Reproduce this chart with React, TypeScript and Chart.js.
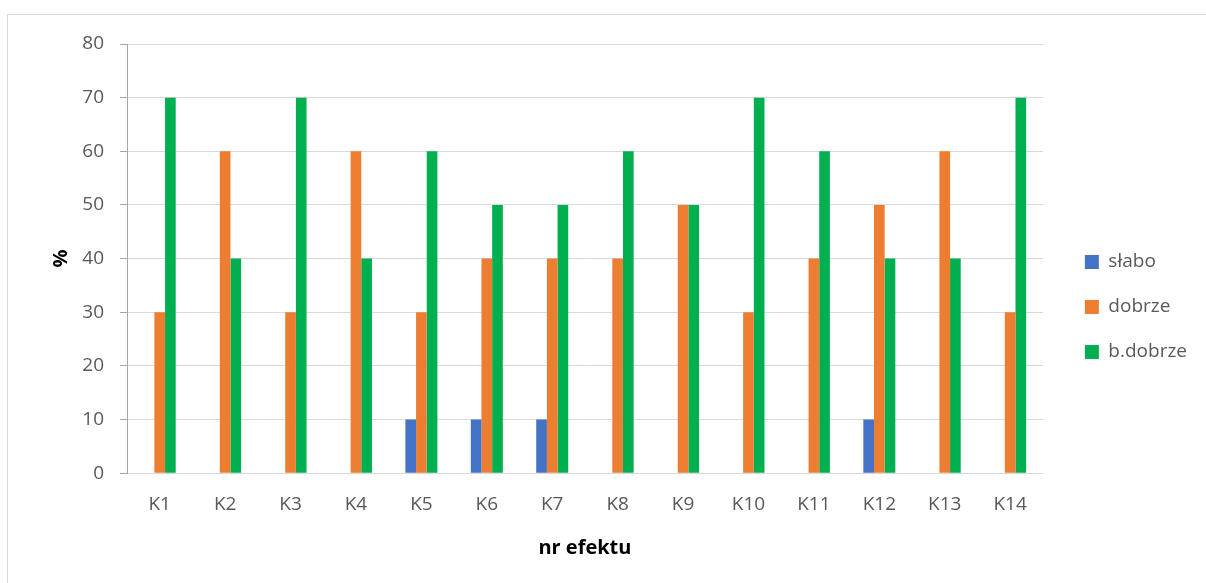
import React, { useEffect, useRef } from "react";
import { Chart, registerables } from "chart.js";

Chart.register(...registerables);

const categories = ["K1", "K2", "K3", "K4", "K5", "K6", "K7", "K8", "K9", "K10", "K11", "K12", "K13", "K14"];
const slabo = [0, 0, 0, 0, 10, 10, 10, 0, 0, 0, 0, 10, 0, 0];
const dobrze = [30, 60, 30, 60, 30, 40, 40, 40, 50, 30, 40, 50, 60, 30];
const bdobrze = [70, 40, 70, 40, 60, 50, 50, 60, 50, 70, 60, 40, 40, 70];
const seriesNames = ["słabo", "dobrze", "b.dobrze"];
const seriesColors = ["#4472C4", "#ED7D31", "#00B050"];
const yTicks = [0, 10, 20, 30, 40, 50, 60, 70, 80];

const FONT = "'Open Sans', 'Noto Sans', sans-serif";
const TEXT = "#595959";

export default function App() {
  const ref = useRef<HTMLCanvasElement>(null);
  useEffect(() => {
    if (!ref.current) return;
    const values = [slabo, dobrze, bdobrze];
    const chart = new Chart(ref.current, {
      type: "bar",
      data: {
        labels: categories,
        datasets: seriesNames.map((name, i) => ({
          label: name,
          data: values[i],
          backgroundColor: seriesColors[i],
          borderWidth: 0,
          categoryPercentage: 0.489,
          barPercentage: 1,
          yAxisID: "y",
        })),
      },
      options: {
        animation: false,
        responsive: false,
        devicePixelRatio: 1,
        layout: { padding: { top: 29, bottom: 19, left: 37, right: 9 } },
        plugins: {
          tooltip: { enabled: false },
          legend: {
            position: "right",
            align: "center",
            title: { display: true, text: "", font: { size: 5 }, padding: 0 },
            labels: {
              boxWidth: 14,
              boxHeight: 14,
              padding: 26,
              color: TEXT,
              font: { family: FONT, size: 19 },
            },
          },
        },
        scales: {
          x: {
            grid: { display: false, drawTicks: false },
            border: { display: true, color: "#d9d9d9", width: 1 },
            ticks: { color: TEXT, font: { family: FONT, size: 19 }, padding: 20, maxRotation: 0, autoSkip: false },
            title: {
              display: true,
              text: "nr efektu",
              color: "#000000",
              font: { family: FONT, size: 20, weight: "bold" },
              padding: { top: 0, bottom: 4 },
            },
          },
          y: {
            min: 0,
            max: 80,
            afterBuildTicks: (s: any) => {
              s.ticks = yTicks.map((v) => ({ value: v }));
            },
            afterFit: (s: any) => {
              s.width = 82;
            },
            grid: { color: "#d9d9d9", tickColor: "#a6a6a6", tickLength: 7, lineWidth: 1 },
            border: { display: true, color: "#a6a6a6", width: 1 },
            ticks: { color: TEXT, font: { family: FONT, size: 19 }, padding: 16 },
            title: {
              display: true,
              text: "%",
              color: "#000000",
              font: { family: FONT, size: 20, weight: "bold" },
              padding: { top: 4, bottom: 10 },
            },
          },
          y2: {
            type: "linear",
            position: "right",
            display: true,
            grid: { display: false, drawOnChartArea: false, drawTicks: false },
            border: { display: false },
            ticks: { display: false },
            afterFit: (s: any) => {
              s.width = 16;
            },
          },
        },
      } as any,
    });
    return () => chart.destroy();
  }, []);

  return (
    <div style={{ position: "fixed", left: 0, top: 0, width: 1206, height: 583, overflow: "hidden", background: "#fff" }}>
      <div
        style={{
          position: "absolute",
          left: 7,
          top: 14,
          width: 1230,
          height: 600,
          border: "1px solid #d9d9d9",
          boxSizing: "border-box",
        }}
      >
        <canvas ref={ref} width={1198} height={568} style={{ position: "absolute", left: 0, top: 0, display: "block" }} />
      </div>
    </div>
  );
}
